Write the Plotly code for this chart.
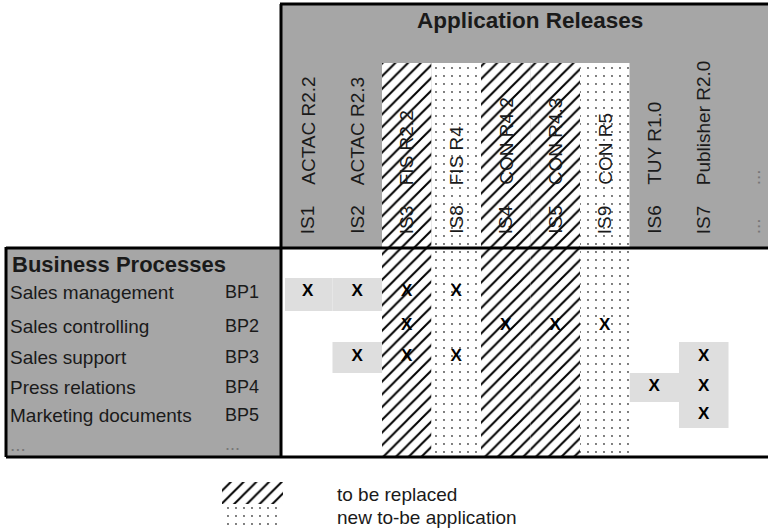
import plotly.graph_objects as go

# ---------------- data ----------------
app_ids = ["IS1", "IS2", "IS3", "IS8", "IS4", "IS5", "IS9", "IS6", "IS7", "..."]
app_names = ["ACTAC R2.2", "ACTAC R2.3", "FIS R2.2", "FIS R4", "CON R4.2",
             "CON R4.3", "CON R5", "TUY R1.0", "Publisher R2.0", "..."]
app_status = ["keep", "keep", "replace", "new", "replace",
              "replace", "new", "keep", "keep", "more"]

process_names = ["Sales management", "Sales controlling", "Sales support",
                 "Press relations", "Marketing documents", "..."]
process_ids = ["BP1", "BP2", "BP3", "BP4", "BP5", "..."]

usage_bp1 = ["IS1", "IS2", "IS3", "IS8"]
usage_bp2 = ["IS3", "IS4", "IS5", "IS9"]
usage_bp3 = ["IS2", "IS3", "IS8", "IS7"]
usage_bp4 = ["IS6", "IS7"]
usage_bp5 = ["IS7"]
usage = {"BP1": usage_bp1, "BP2": usage_bp2, "BP3": usage_bp3,
         "BP4": usage_bp4, "BP5": usage_bp5}

legend_status = ["replace", "new"]
legend_texts = ["to be replaced", "new to-be application"]
title_apps = "Application Releases"
title_procs = "Business Processes"

# ---------------- layout constants ----------------
W, H = 768, 532
FONT = "Arial, Liberation Sans, sans-serif"
TXT = "#1a1a1a"
GRAY = "#a6a6a6"
LIGHT = "#dedede"
COL_X0, COL_W = 283, 49.5
HEAD_TOP, PATTERN_TOP = 4, 63
GRID_TOP, GRID_BOTTOM = 249, 457
ROW_EDGES = [278, 311, 342, 373, 402, 428, 457]
ROW_Y = [292, 326, 357, 387, 415, 444]
LEFT_X0, PANEL_X = 6, 281
ID_LABEL_Y, NAME_LABEL_Y = 236, 187

PATTERNS = {
    "replace": dict(shape="/", size=9, solidity=0.22, fgcolor="black",
                    bgcolor="white", fillmode="replace"),
    "new": dict(shape=".", size=8, solidity=0.04, fgcolor="#444444",
                bgcolor="white", fillmode="replace"),
}

col_x = [COL_X0 + (i + 0.5) * COL_W for i in range(len(app_ids))]
col_idx = {a: i for i, a in enumerate(app_ids)}

fig = go.Figure()
shapes = []
annotations = []

# panels
shapes.append(dict(type="rect", x0=PANEL_X, x1=W + 5, y0=HEAD_TOP, y1=GRID_TOP,
                   fillcolor=GRAY, line_width=0, layer="below"))
shapes.append(dict(type="rect", x0=LEFT_X0, x1=PANEL_X, y0=GRID_TOP - 2, y1=GRID_BOTTOM,
                   fillcolor=GRAY, line_width=0, layer="below"))

# light cells behind X of unchanged applications
for r, bp in enumerate(process_ids):
    for a in usage.get(bp, []):
        i = col_idx[a]
        if app_status[i] == "keep":
            shapes.append(dict(type="rect",
                               x0=COL_X0 + i * COL_W + (2 if i == 0 else 0),
                               x1=COL_X0 + (i + 1) * COL_W,
                               y0=ROW_EDGES[r], y1=ROW_EDGES[r + 1],
                               fillcolor=LIGHT, line_width=0, layer="below"))

# patterned columns
for st in ["replace", "new"]:
    xs = [col_x[i] for i, s in enumerate(app_status) if s == st]
    fig.add_trace(go.Bar(
        x=xs, y=[GRID_BOTTOM - PATTERN_TOP] * len(xs), base=PATTERN_TOP,
        width=COL_W, marker=dict(color="white", line_width=0, pattern=PATTERNS[st]),
        showlegend=False, hoverinfo="skip"))

# legend swatches
for k, st in enumerate(legend_status):
    y0 = 482 + k * 23
    fig.add_trace(go.Bar(
        x=[252.5], y=[22], base=y0, width=61,
        marker=dict(color="white", line_width=0, pattern=PATTERNS[st]),
        showlegend=False, hoverinfo="skip"))
    annotations.append(dict(x=335, y=y0 + 12, text=legend_texts[k], showarrow=False,
                            xanchor="left", yanchor="middle",
                            font=dict(family=FONT, size=19, color=TXT)))

# X marks
xm, ym = [], []
for r, bp in enumerate(process_ids):
    for a in usage.get(bp, []):
        xm.append(col_x[col_idx[a]])
        ym.append(ROW_Y[r])
fig.add_trace(go.Scatter(x=xm, y=ym, mode="text", text=["<b>X</b>"] * len(xm),
                         textfont=dict(family=FONT, size=17, color="black"),
                         showlegend=False, hoverinfo="skip"))

# header texts
annotations.append(dict(x=530, y=20, text="<b>%s</b>" % title_apps, showarrow=False,
                        xanchor="center", yanchor="middle",
                        font=dict(family=FONT, size=22.5, color=TXT)))
for i, (aid, nm) in enumerate(zip(app_ids, app_names)):
    c = "#777777" if app_status[i] == "more" else TXT
    annotations.append(dict(x=col_x[i], y=ID_LABEL_Y, text=aid, textangle=-90,
                            showarrow=False, xanchor="center", yanchor="bottom",
                            font=dict(family=FONT, size=19, color=c)))
    annotations.append(dict(x=col_x[i], y=NAME_LABEL_Y, text=nm, textangle=-90,
                            showarrow=False, xanchor="center", yanchor="bottom",
                            font=dict(family=FONT, size=19, color=c)))

# left panel texts
annotations.append(dict(x=10, y=264, text="<b>%s</b>" % title_procs, showarrow=False,
                        xanchor="left", yanchor="middle",
                        font=dict(family=FONT, size=22, color=TXT)))
for r, (nm, pid) in enumerate(zip(process_names, process_ids)):
    c = "#777777" if pid == "..." else TXT
    annotations.append(dict(x=8, y=ROW_Y[r], text=nm, showarrow=False,
                            xanchor="left", yanchor="middle",
                            font=dict(family=FONT, size=19, color=c)))
    annotations.append(dict(x=223, y=ROW_Y[r], text=pid, showarrow=False,
                            xanchor="left", yanchor="middle",
                            font=dict(family=FONT, size=18, color=c)))

# thick borders
lw = 3
for (x0, y0, x1, y1) in [
    (PANEL_X - 1, HEAD_TOP, W + 5, HEAD_TOP),
    (PANEL_X, HEAD_TOP, PANEL_X, GRID_BOTTOM),
    (LEFT_X0, GRID_TOP - 1, W + 5, GRID_TOP - 1),
    (LEFT_X0, GRID_BOTTOM, W + 5, GRID_BOTTOM),
    (LEFT_X0, GRID_TOP - 2, LEFT_X0, GRID_BOTTOM),
]:
    shapes.append(dict(type="line", x0=x0, y0=y0, x1=x1, y1=y1,
                       line=dict(color="black", width=lw), layer="above"))

fig.update_layout(
    width=W, height=H, margin=dict(l=0, r=0, t=0, b=0),
    paper_bgcolor="white", plot_bgcolor="white",
    xaxis=dict(range=[0, W], visible=False, fixedrange=True),
    yaxis=dict(range=[H, 0], visible=False, fixedrange=True),
    barmode="overlay", hovermode=False, showlegend=False,
    shapes=shapes, annotations=annotations,
)

fig.write_html("out.html", config={"displayModeBar": False},
               post_script="document.body.style.margin='0';")
